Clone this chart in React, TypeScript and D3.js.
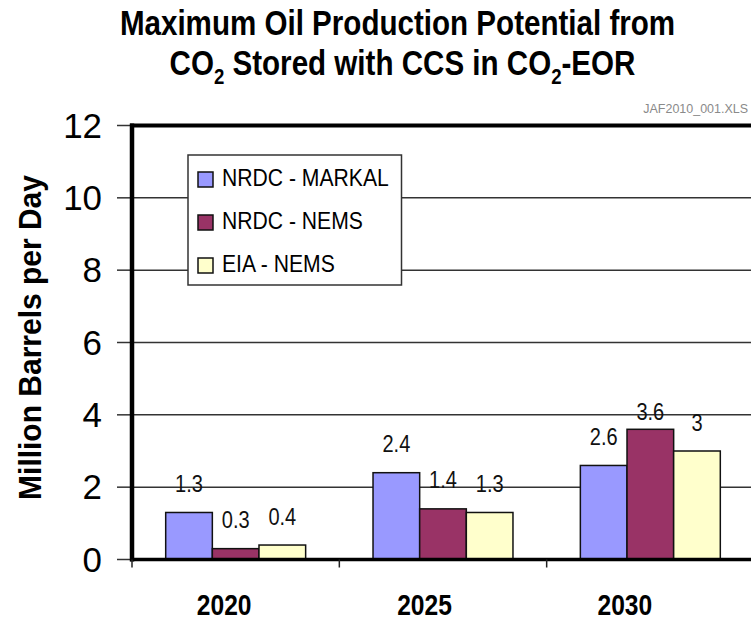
import React from "react";
import * as d3 from "d3";

const categories = ["2020", "2025", "2030"];
const seriesNames = ["NRDC - MARKAL", "NRDC - NEMS", "EIA - NEMS"];
const markalValues = [1.3, 2.4, 2.6];
const nrdcNemsValues = [0.3, 1.4, 3.6];
const eiaNemsValues = [0.4, 1.3, 3.0];
const seriesColors = ["#9999FF", "#993366", "#FFFFCC"];
const yTicks = [0, 2, 4, 6, 8, 10, 12];

const W = 751;
const H = 621;
const FONT = "'Liberation Sans', Arial, Helvetica, sans-serif";

type STextProps = {
  x: number;
  y: number;
  sx?: number;
  size: number;
  weight?: string | number;
  anchor?: "start" | "middle" | "end";
  fill?: string;
  rotate?: number;
  children: React.ReactNode;
};

function SText({ x, y, sx = 1, size, weight = "normal", anchor = "start", fill = "#000", rotate = 0, children }: STextProps) {
  const tr = `translate(${x},${y})` + (rotate ? ` rotate(${rotate})` : "") + ` scale(${sx},1)`;
  return (
    <text transform={tr} fontFamily={FONT} fontSize={size} fontWeight={weight} textAnchor={anchor} fill={fill}>
      {children}
    </text>
  );
}

export default function App() {
  const series = [markalValues, nrdcNemsValues, eiaNemsValues];
  const plotLeft = 132;
  const plotRight = 754;
  const plotTop = 125.5;
  const plotBottom = 559.5;

  const y = d3.scaleLinear().domain([0, 12]).range([plotBottom, plotTop]);
  const x = d3.scaleBand<string>().domain(categories).range([plotLeft, plotRight]).paddingInner(0.325).paddingOuter(0.1625);
  const xs = d3.scaleBand<string>().domain(seriesNames).range([0, x.bandwidth()]).padding(0);
  const labelX = d3.scaleBand<string>().domain(categories).range([124, 725]);
  const step = x.step();
  const boundaries = d3.range(categories.length + 1).map((i) => plotLeft + i * step);

  const legendRows = d3.scalePoint<string>().domain(seriesNames).range([179.5, 265.5]);

  return (
    <svg width={W} height={H} style={{ position: "absolute", left: 0, top: 0, background: "#fff" }}>
      <rect x={0} y={0} width={W} height={H} fill="#fff" />
      {/* Title */}
      <SText x={397.5} y={35} size={35} weight="bold" anchor="middle" sx={0.845}>
        Maximum Oil Production Potential from
      </SText>
      <text transform={`translate(402.5,75) scale(0.845,1)`} fontFamily={FONT} fontSize={35} fontWeight="bold" textAnchor="middle" fill="#000">
        CO<tspan fontSize={22} dy={9}>2</tspan>
        <tspan dy={-9}> Stored with CCS in CO</tspan>
        <tspan fontSize={22} dy={9}>2</tspan>
        <tspan dy={-9}>-EOR</tspan>
      </text>
      <SText x={748} y={113} size={12} anchor="end" fill="#8a8a8a" sx={1.04}>
        JAF2010_001.XLS
      </SText>

      {/* Gridlines and y ticks */}
      {yTicks.map((t) => (
        <g key={t}>
          <line x1={plotLeft} x2={W} y1={y(t)} y2={y(t)} stroke="#333" strokeWidth={1.5} />
          <line x1={117} x2={plotLeft} y1={y(t)} y2={y(t)} stroke="#333" strokeWidth={1.5} />
          <SText x={102} y={y(t) + 12} size={36} anchor="end" sx={0.97}>
            {t}
          </SText>
        </g>
      ))}

      {/* Y title */}
      <SText x={41} y={337.5} size={32} weight="bold" anchor="middle" rotate={-90} sx={0.937}>
        Million Barrels per Day
      </SText>

      {/* Bars */}
      {categories.map((c, ci) => (
        <g key={c}>
          {seriesNames.map((s, si) => {
            const v = series[si][ci];
            const bx = (x(c) as number) + (xs(s) as number);
            const bw = xs.bandwidth();
            return (
              <rect key={s} x={bx} y={y(v)} width={bw} height={y(0) - y(v)} fill={seriesColors[si]} stroke="#111" strokeWidth={1.5} />
            );
          })}
        </g>
      ))}

      {/* Value labels */}
      {categories.map((c, ci) =>
        seriesNames.map((s, si) => {
          const v = series[si][ci];
          const cx = (x(c) as number) + (xs(s) as number) + xs.bandwidth() / 2;
          const lift = v === d3.max(nrdcNemsValues) && si === 1 ? 9 : 20.5;
          return (
            <SText key={c + s} x={cx} y={y(v) - lift} size={23} anchor="middle" sx={0.87} fill="#111">
              {String(v)}
            </SText>
          );
        })
      )}

      {/* Legend */}
      <rect x={188} y={155} width={213.5} height={130} fill="#fff" stroke="#333" strokeWidth={1.5} />
      {seriesNames.map((s, si) => {
        const cy = legendRows(s) as number;
        return (
          <g key={s}>
            <rect x={198} y={cy - 7.5} width={15} height={15} fill={seriesColors[si]} stroke="#111" strokeWidth={1.5} />
            <SText x={222} y={cy + 6} size={23} sx={0.92}>
              {s}
            </SText>
          </g>
        );
      })}

      {/* Frame */}
      <line x1={plotLeft} x2={plotLeft} y1={plotTop - 2} y2={plotBottom + 2} stroke="#000" strokeWidth={4.5} />
      <line x1={plotLeft - 2} x2={W} y1={plotTop} y2={plotTop} stroke="#000" strokeWidth={4} />
      <line x1={plotLeft - 2} x2={W} y1={plotBottom} y2={plotBottom} stroke="#000" strokeWidth={3.5} />
      {boundaries.map((b, i) => (
        <line key={i} x1={b} x2={b} y1={plotBottom} y2={plotBottom + 8} stroke="#222" strokeWidth={1.5} />
      ))}

      {/* Category labels */}
      {categories.map((c) => (
        <SText key={c} x={(labelX(c) as number) + labelX.bandwidth() / 2} y={615} size={30} weight="bold" anchor="middle" sx={0.82}>
          {c}
        </SText>
      ))}
    </svg>
  );
}
